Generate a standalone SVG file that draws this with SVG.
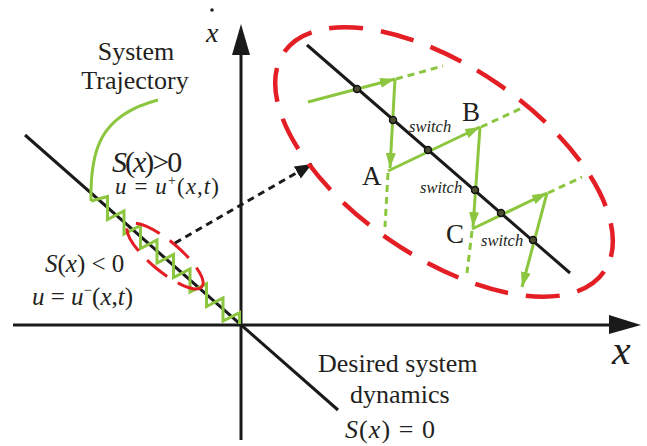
<svg xmlns="http://www.w3.org/2000/svg" width="647" height="446" viewBox="0 0 647 446">
<defs>
<style>
.ax{stroke:#1a1a1a;stroke-width:3;fill:none}
.blk{stroke:#1a1a1a;stroke-width:3;fill:none}
.grn{stroke:#8cc63f;stroke-width:3;fill:none}
.grnd{stroke:#8cc63f;stroke-width:3;fill:none;stroke-dasharray:7 5}
.red{stroke:#e31e24;stroke-width:4.5;fill:none;stroke-dasharray:34 18}
.reds{stroke:#e31e24;stroke-width:3;fill:none;stroke-dasharray:26 12}
.dot{fill:#4d4d33;stroke:#111;stroke-width:1.5}
.i{font-style:italic}
</style>
<marker id="ga" markerUnits="userSpaceOnUse" markerWidth="16" markerHeight="10" refX="15" refY="5" orient="auto">
<path d="M0,0 L15,5 L0,10 z" fill="#8cc63f"/>
</marker>
<marker id="ba" markerUnits="userSpaceOnUse" markerWidth="18" markerHeight="14" refX="17" refY="7" orient="auto">
<path d="M0,0 L17,7 L0,14 z" fill="#1a1a1a"/>
</marker>
</defs>
<rect width="647" height="446" fill="#fff"/>

<g id="axes" font-family="'Liberation Serif', serif" fill="#231f20">
<line class="ax" x1="13" y1="325" x2="612" y2="325"/>
<polygon points="609,315 641,325 609,334" fill="#1a1a1a"/>
<line class="ax" x1="241" y1="440" x2="241" y2="52"/>
<polygon points="232,55 241,24 250,55" fill="#1a1a1a"/>
<circle cx="212" cy="10" r="1.8" fill="#231f20"/>
<text class="i" x="206" y="42" font-size="28">x</text>
<text class="i" x="612" y="364" font-size="42">x</text>
</g>

<g id="sliding-surface">
<line class="blk" x1="25" y1="135" x2="338" y2="410"/>
</g>

<g id="trajectory">
<path class="grn" d="M158,100 C100,115 90,150 91,201"/>
<path class="grn" d="M91,201 L107.5,196.5 L107.5,219.5 L124,211 L124,234 L140.5,225.5 L140.5,248.5 L157,240 L157,263 L173.5,254.5 L173.5,277.5 L190,269 L190,292 L206.5,283.6 L206.5,306.6 L223,298 L223,321 L239.5,312.6 L239.5,324"/>
</g>

<g id="zoom-region">
<ellipse class="reds" cx="165" cy="256" rx="48" ry="15" transform="rotate(40 165 256)"/>
</g>

<g id="connectors">
<line x1="175" y1="243" x2="312" y2="164" stroke="#1a1a1a" stroke-width="3" stroke-dasharray="7 5" marker-end="url(#ba)"/>
</g>

<g id="zoom-view" font-family="'Liberation Serif', serif" fill="#231f20">
<ellipse class="red" cx="444" cy="162" rx="194" ry="95" transform="rotate(34.4 444 162)"/>
<line class="blk" x1="307" y1="45" x2="570" y2="273"/>
<line class="grn" x1="308" y1="102" x2="395" y2="79" marker-end="url(#ga)"/>
<line class="grnd" x1="396" y1="79" x2="443" y2="66"/>
<line class="grn" x1="395" y1="79" x2="390" y2="168" marker-end="url(#ga)"/>
<line class="grn" x1="388" y1="171" x2="480" y2="127" marker-end="url(#ga)"/>
<line class="grnd" x1="481" y1="127" x2="522" y2="108"/>
<line class="grnd" x1="388" y1="173" x2="385" y2="227"/>
<line class="grn" x1="480" y1="127" x2="473" y2="227" marker-end="url(#ga)"/>
<line class="grn" x1="472" y1="229" x2="547" y2="193" marker-end="url(#ga)"/>
<line class="grnd" x1="548" y1="193" x2="582" y2="177"/>
<line class="grnd" x1="472" y1="231" x2="467" y2="273"/>
<line class="grn" x1="547" y1="193" x2="522" y2="287" marker-end="url(#ga)"/>
<circle class="dot" cx="357" cy="89" r="3.5"/>
<circle class="dot" cx="393" cy="120" r="3.5"/>
<circle class="dot" cx="428" cy="150" r="3.5"/>
<circle class="dot" cx="475" cy="190" r="3.5"/>
<circle class="dot" cx="501" cy="213" r="3.5"/>
<circle class="dot" cx="533" cy="240" r="3.5"/>
<text x="362" y="185" font-size="27">A</text>
<text x="462" y="121" font-size="27">B</text>
<text x="446" y="243" font-size="27">C</text>
<text class="i" x="409" y="132" font-size="16.5">switch</text>
<text class="i" x="420" y="193" font-size="16.5">switch</text>
<text class="i" x="481" y="246" font-size="16.5">switch</text>
</g>

<g id="labels" font-family="'Liberation Serif', serif" fill="#231f20">
<text x="136" y="60" font-size="26" text-anchor="middle">System</text>
<text x="135" y="89" font-size="26" text-anchor="middle">Trajectory</text>
<text x="112" y="172" font-size="30" letter-spacing="-2"><tspan class="i">S</tspan>(<tspan class="i">x</tspan>)&gt;0</text>
<text x="115" y="194" font-size="23" textLength="104" lengthAdjust="spacing"><tspan class="i">u</tspan> = <tspan class="i">u</tspan><tspan font-size="14" dy="-9">+</tspan><tspan dy="9">(</tspan><tspan class="i">x</tspan>,<tspan class="i">t</tspan>)</text>
<text x="45" y="272" font-size="25"><tspan class="i">S</tspan>(<tspan class="i">x</tspan>) &lt; 0</text>
<text x="32" y="305" font-size="25"><tspan class="i">u</tspan> = <tspan class="i">u</tspan><tspan font-size="15" dy="-10">−</tspan><tspan dy="10">(</tspan><tspan class="i">x</tspan>,<tspan class="i">t</tspan>)</text>
<text x="318" y="372" font-size="26">Desired system</text>
<text x="350" y="403" font-size="26">dynamics</text>
<text x="345" y="438" font-size="26" textLength="90" lengthAdjust="spacing"><tspan class="i">S</tspan>(<tspan class="i">x</tspan>) = 0</text>
</g>
</svg>
